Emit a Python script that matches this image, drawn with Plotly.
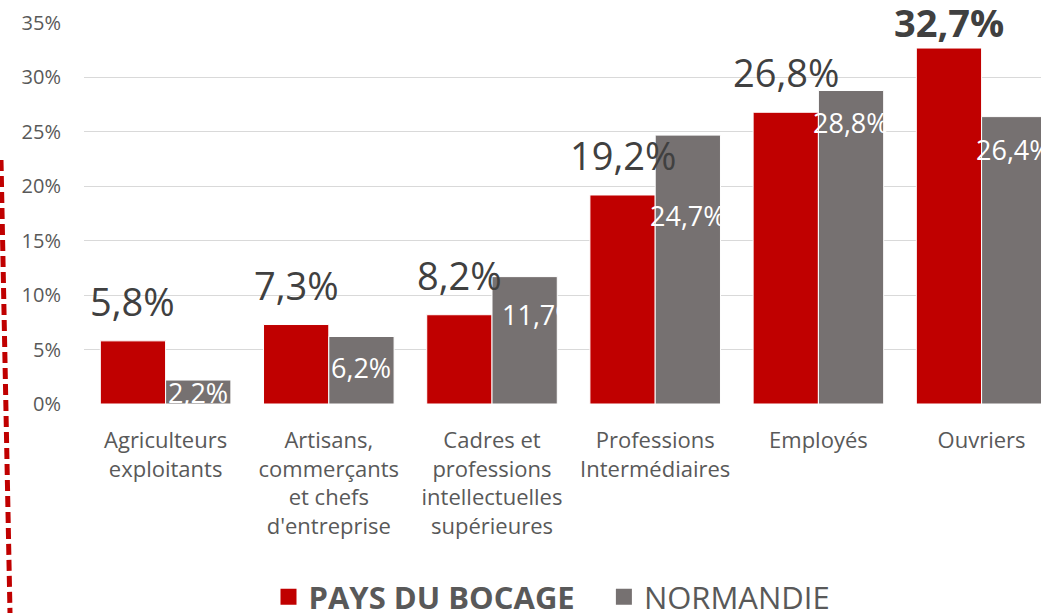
import plotly.graph_objects as go

# ---- data ----
categories = [
    "Agriculteurs<br>exploitants",
    "Artisans,<br>commerçants<br>et chefs<br>d'entreprise",
    "Cadres et<br>professions<br>intellectuelles<br>supérieures",
    "Professions<br>Intermédiaires",
    "Employés",
    "Ouvriers",
]
pays_du_bocage = [5.8, 7.3, 8.2, 19.2, 26.8, 32.7]
normandie = [2.2, 6.2, 11.7, 24.7, 28.8, 26.4]
y_ticks = [0, 5, 10, 15, 20, 25, 30, 35]
y_tick_labels = ["0%", "5%", "10%", "15%", "20%", "25%", "30%", "35%"]
series_names = ["PAYS DU BOCAGE", "NORMANDIE"]

# ---- styling / layout constants ----
FONT = "Open Sans"
RED = "#C00000"
GREY = "#767171"
TXT = "#595959"
DARK = "#404040"
W, H = 1041, 613
L, T, B = 84, 23, 209
plot_w = W - L
plot_h = H - T - B
cat_px = 163.2
x_max = -0.5 + plot_w / cat_px
bargap = 0.2
bar_off = cat_px * (1 - bargap) / 4  # centre of each bar from category centre

# label tweaks (pixels)
red_gap = [12, 12, 12, 12, 12, -2]
grey_dy = [2, 21, 28, 70, 22, 23]
grey_dx = [0, 0, 15, 0, 0, 0]


def fr(v):
    return f"{v:.1f}".replace(".", ",") + "%"


fig = go.Figure()
fig.add_bar(x=categories, y=pays_du_bocage, name=series_names[0],
            marker=dict(color=RED, line=dict(color="white", width=1)),
            showlegend=False, hoverinfo="skip")
fig.add_bar(x=categories, y=normandie, name=series_names[1],
            marker=dict(color=GREY, line=dict(color="white", width=1)),
            showlegend=False, hoverinfo="skip")

# legend entries
fig.add_scatter(x=[None], y=[None], mode="markers",
                marker=dict(symbol="square", size=20, color=RED),
                name="<b>" + series_names[0] + "</b>\u00a0\u00a0\u00a0")
fig.add_scatter(x=[None], y=[None], mode="markers",
                marker=dict(symbol="square", size=20, color=GREY),
                name=series_names[1])

vmax = max(pays_du_bocage)
for i, (c, v) in enumerate(zip(categories, pays_du_bocage)):
    bold = v == vmax
    txt = "<b>" + fr(v) + "</b>" if bold else fr(v)
    fig.add_annotation(x=c, y=v, text=txt, showarrow=False,
                       xshift=-bar_off, yanchor="bottom", yshift=red_gap[i],
                       font=dict(family=FONT, size=38, color=DARK))

for i, (c, v) in enumerate(zip(categories, normandie)):
    fig.add_annotation(x=c, y=v, text=fr(v), showarrow=False,
                       xshift=bar_off + grey_dx[i], yanchor="top",
                       yshift=10.5 - grey_dy[i],
                       font=dict(family=FONT, size=27, color="white"))


# red dashed separator on the left
def px_x(p):
    return (p - L) / plot_w


def px_y(p):
    return (H - B - p) / plot_h


fig.add_shape(type="line", xref="paper", yref="paper",
              x0=px_x(1), y0=px_y(160), x1=px_x(10), y1=px_y(613),
              line=dict(color=RED, width=5, dash="11px,5px"))

fig.update_layout(
    template="none",
    width=W, height=H,
    margin=dict(l=L, r=0, t=T, b=B, autoexpand=False),
    paper_bgcolor="white", plot_bgcolor="white",
    barmode="group", bargap=bargap, bargroupgap=0,
    font=dict(family=FONT, color=TXT),
    xaxis=dict(type="category", range=[-0.5, x_max], showgrid=False,
               showline=False, zeroline=False, ticks="", automargin=False,
               tickfont=dict(family=FONT, size=22, color=TXT),
               ticklabelstandoff=21),
    yaxis=dict(range=[0, 35], tickvals=y_ticks, ticktext=y_tick_labels,
               showgrid=True, gridcolor="#D9D9D9", gridwidth=1,
               zeroline=False, showline=False, ticks="", automargin=False,
               tickfont=dict(family=FONT, size=20, color=TXT),
               ticklabelstandoff=22),
    legend=dict(orientation="h", x=px_x(552), xanchor="center",
                y=px_y(597), yanchor="middle",
                font=dict(family=FONT, size=31, color=TXT),
                bgcolor="rgba(0,0,0,0)", itemclick=False),
    showlegend=True,
)

fig.write_html("out.html",
               config={"displayModeBar": False},
               post_script="document.body.style.margin='0';"
                           "document.body.style.overflow='hidden';")
